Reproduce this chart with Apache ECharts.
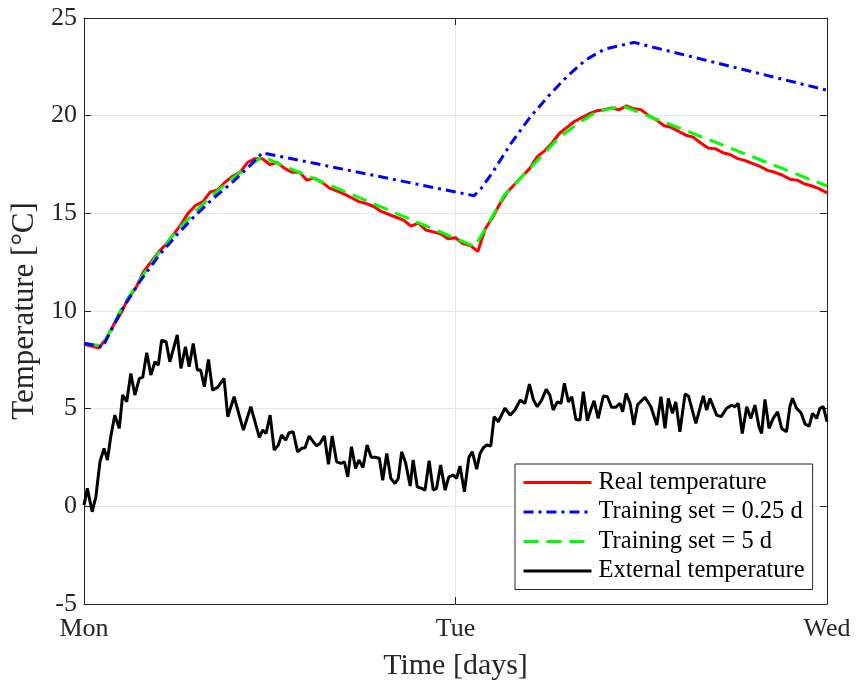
<!DOCTYPE html>
<html>
<head>
<meta charset="utf-8">
<script src="https://cdn.jsdelivr.net/npm/echarts@6/dist/echarts.min.js"></script>
<style>
  html, body { margin: 0; padding: 0; background: #fff; }
  #chart { width: 857px; height: 687px; }
</style>
</head>
<body>
<div id="chart"></div>
<script>
// x axis: time in days from Monday 00:00
var dayLabels = ["Mon", "Tue", "Wed"];

// Real temperature, sampled every 0.02 d
var realTemp = [
  8.3, 8.2, 8.1, 8.6, 9.3, 9.9, 10.7, 11.2, 12.0, 12.5,
  13.0, 13.4, 13.9, 14.4, 15.0, 15.4, 15.6, 16.1, 16.2, 16.6,
  16.9, 17.1, 17.6, 17.8, 17.8, 17.5, 17.6, 17.3, 17.1, 17.1,
  16.7, 16.8, 16.6, 16.3, 16.15, 16.0, 15.8, 15.6, 15.5, 15.35,
  15.1, 14.95, 14.8, 14.65, 14.35, 14.5, 14.15, 14.05, 13.95, 13.7,
  13.75, 13.45, 13.35, 13.05, 14.2, 14.8, 15.5, 16.1, 16.5, 16.9,
  17.3, 17.9, 18.2, 18.6, 19.1, 19.4, 19.7, 19.9, 20.1, 20.25,
  20.3, 20.4, 20.3, 20.5, 20.35, 20.3, 20.0, 19.8, 19.5, 19.4,
  19.2, 19.0, 18.9, 18.6, 18.35, 18.3, 18.1, 18.0, 17.8, 17.7,
  17.55, 17.4, 17.2, 17.1, 16.95, 16.75, 16.7, 16.5, 16.4, 16.25,
  16.05
];
var realTime = realTemp.map(function (v, i) { return +(i * 0.02).toFixed(2); });

// Training set = 0.25 d
var shortTime = [0, 0.05, 0.1, 0.15, 0.2, 0.25, 0.3, 0.35, 0.4, 0.45, 0.48,
  1.05, 1.07, 1.1, 1.15, 1.2, 1.25, 1.3, 1.35, 1.4, 1.48, 2.0];
var shortTemp = [8.35, 8.15, 10.0, 11.5, 12.8, 13.9, 14.9, 15.8, 16.6, 17.5, 18.1,
  15.9, 16.3, 17.1, 18.6, 19.9, 21.0, 22.0, 22.85, 23.4, 23.75, 21.3];

// Training set = 5 d
var longTime = [0, 0.05, 0.1, 0.15, 0.2, 0.25, 0.3, 0.35, 0.4, 0.45, 0.48,
  1.052, 1.08, 1.13, 1.18, 1.23, 1.28, 1.33, 1.38, 1.45, 2.0];
var longTemp = [8.35, 8.2, 10.1, 11.6, 12.95, 14.1, 15.1, 16.0, 16.8, 17.5, 17.9,
  13.3, 14.2, 15.9, 16.9, 17.9, 18.9, 19.6, 20.2, 20.5, 16.4];

// External temperature
var extTime = [
  0, 0.009, 0.022, 0.032, 0.043, 0.054, 0.063, 0.072, 0.083, 0.095,
  0.104, 0.115, 0.126, 0.137, 0.149, 0.158, 0.169, 0.18, 0.191, 0.2,
  0.209, 0.221, 0.231, 0.251, 0.261, 0.273, 0.283, 0.294, 0.305, 0.314,
  0.324, 0.335, 0.346, 0.36, 0.377, 0.387, 0.404, 0.429, 0.449, 0.472,
  0.481, 0.49, 0.501, 0.512, 0.523, 0.532, 0.543, 0.552, 0.563, 0.575,
  0.586, 0.595, 0.606, 0.617, 0.626, 0.635, 0.647, 0.658, 0.668, 0.68,
  0.692, 0.701, 0.71, 0.72, 0.731, 0.74, 0.751, 0.762, 0.773, 0.783,
  0.795, 0.804, 0.815, 0.826, 0.837, 0.846, 0.855, 0.866, 0.878, 0.886,
  0.897, 0.909, 0.918, 0.929, 0.94, 0.949, 0.96, 0.972, 0.982, 0.994,
  1.003, 1.012, 1.024, 1.036, 1.045, 1.057, 1.066, 1.075, 1.084, 1.095,
  1.104, 1.115, 1.133, 1.147, 1.16, 1.174, 1.187, 1.199, 1.21, 1.22,
  1.232, 1.244, 1.254, 1.263, 1.274, 1.284, 1.293, 1.304, 1.313, 1.324,
  1.335, 1.344, 1.355, 1.364, 1.373, 1.384, 1.398, 1.409, 1.42, 1.431,
  1.443, 1.45, 1.459, 1.47, 1.48, 1.49, 1.51, 1.526, 1.542, 1.553,
  1.564, 1.573, 1.584, 1.593, 1.604, 1.618, 1.627, 1.647, 1.667, 1.676,
  1.685, 1.703, 1.715, 1.73, 1.743, 1.752, 1.761, 1.772, 1.784, 1.795,
  1.806, 1.817, 1.824, 1.833, 1.844, 1.855, 1.867, 1.878, 1.891, 1.9,
  1.907, 1.918, 1.93, 1.941, 1.952, 1.961, 1.972, 1.981, 1.99, 2.0
];
var extTemp = [
  0.06, 0.92, -0.28, 0.49, 2.28, 2.97, 2.37, 3.56, 4.67, 3.99,
  5.7, 5.35, 6.8, 5.7, 6.55, 6.6, 7.86, 6.72, 7.4, 7.23,
  8.51, 8.43, 7.4, 8.77, 7.06, 8.17, 7.15, 8.34, 6.98, 6.98,
  6.12, 7.52, 5.95, 6.1, 6.55, 4.59, 5.61, 3.9, 5.1, 3.53,
  3.9, 3.73, 4.67, 2.88, 3.14, 3.65, 3.39, 3.77, 3.82, 2.79,
  2.97, 3.0, 3.6, 3.31, 3.1, 3.22, 3.6, 2.15, 3.6, 2.28,
  2.2, 2.28, 1.51, 3.05, 1.94, 2.37, 1.99, 3.14, 2.51, 2.51,
  2.46, 1.34, 2.71, 1.43, 1.17, 1.43, 2.79, 2.2, 1.04, 2.37,
  1.0, 0.92, 0.83, 2.33, 0.83, 0.92, 2.11, 0.83, 1.51, 1.6,
  1.43, 2.06, 0.75, 2.5, 2.8, 1.9, 2.7, 3.0, 3.14, 3.09,
  4.59, 4.33, 5.02, 4.67, 4.93, 5.44, 5.27, 6.26, 5.44, 5.1,
  5.44, 5.99, 5.7, 4.93, 5.35, 5.27, 6.3, 5.35, 5.61, 4.45,
  4.42, 5.87, 4.38, 4.93, 5.4, 4.5, 5.65, 5.61, 5.07, 5.07,
  5.27, 4.84, 5.78, 5.27, 4.16, 5.2, 5.58, 5.1, 4.16, 5.61,
  3.99, 5.53, 4.76, 5.35, 3.82, 5.75, 5.65, 4.25, 5.65, 4.93,
  5.53, 4.67, 4.59, 5.02, 5.18, 5.1, 5.27, 3.73, 5.1, 4.5,
  5.18, 4.07, 3.73, 5.47, 3.99, 4.5, 4.84, 3.99, 3.82, 5.1,
  5.53, 5.02, 4.79, 4.21, 4.11, 4.76, 4.5, 5.02, 5.1, 4.33
];

function zip(xs, ys) {
  return xs.map(function (x, i) { return [x, ys[i]]; });
}

var FONT = "Liberation Serif";
var INK = "#262626";

var chart = echarts.init(document.getElementById("chart"));

var option = {
  animation: false,
  backgroundColor: "#fff",
  textStyle: { fontFamily: FONT, color: INK },
  grid: { left: 84, right: 30, top: 18, bottom: 83, containLabel: false },
  legend: {
    orient: "vertical",
    left: 515,
    top: 464,
    padding: [6, 8, 6, 7],
    itemGap: 4.5,
    itemWidth: 68,
    itemHeight: 14,
    backgroundColor: "#fff",
    borderColor: INK,
    borderWidth: 1,
    borderRadius: 0,
    selectedMode: false,
    itemStyle: { opacity: 0 },
    lineStyle: { width: 3 },
    data: ["Real temperature", "Training set = 0.25 d", "Training set = 5 d", "External temperature"],
    textStyle: { fontFamily: FONT, fontSize: 24.5, lineHeight: 24, color: "#000", padding: [0, 0, 0, 2] }
  },
  xAxis: [
    {
      type: "value",
      min: 0,
      max: 2,
      interval: 1,
      name: "Time [days]",
      nameLocation: "middle",
      nameGap: 47,
      nameTextStyle: { fontFamily: FONT, fontSize: 30, color: INK },
      axisLine: { show: true, onZero: false, lineStyle: { color: INK, width: 1 } },
      axisTick: { show: true, inside: true, length: 7, lineStyle: { color: INK } },
      axisLabel: {
        fontFamily: FONT, fontSize: 26, color: INK, margin: 12,
        formatter: function (v) { return dayLabels[Math.round(v)]; }
      },
      splitLine: { show: true, lineStyle: { color: "#e6e6e6", width: 1 } }
    },
    {
      type: "value",
      position: "top",
      min: 0,
      max: 2,
      interval: 1,
      axisLine: { show: true, onZero: false, lineStyle: { color: INK, width: 1 } },
      axisTick: { show: true, inside: true, length: 7, lineStyle: { color: INK } },
      axisLabel: { show: false },
      splitLine: { show: false }
    }
  ],
  yAxis: [
    {
      type: "value",
      min: -5,
      max: 25,
      interval: 5,
      name: "Temperature [°C]",
      nameLocation: "middle",
      nameGap: 38,
      nameTextStyle: { fontFamily: FONT, fontSize: 31, color: INK },
      axisLine: { show: true, onZero: false, lineStyle: { color: INK, width: 1 } },
      axisTick: { show: true, inside: true, length: 7, lineStyle: { color: INK } },
      axisLabel: { fontFamily: FONT, fontSize: 26, color: INK, margin: 7 },
      splitLine: { show: true, lineStyle: { color: "#e6e6e6", width: 1 } }
    },
    {
      type: "value",
      position: "right",
      min: -5,
      max: 25,
      interval: 5,
      axisLine: { show: true, onZero: false, lineStyle: { color: INK, width: 1 } },
      axisTick: { show: true, inside: true, length: 7, lineStyle: { color: INK } },
      axisLabel: { show: false },
      splitLine: { show: false }
    }
  ],
  series: [
    {
      name: "External temperature",
      type: "line",
      symbol: "none",
      data: zip(extTime, extTemp),
      itemStyle: { color: "#000" },
      lineStyle: { color: "#000", width: 3 }
    },
    {
      name: "Real temperature",
      type: "line",
      symbol: "none",
      data: zip(realTime, realTemp),
      itemStyle: { color: "#ff0000" },
      lineStyle: { color: "#ff0000", width: 3 }
    },
    {
      name: "Training set = 5 d",
      type: "line",
      symbol: "none",
      data: zip(longTime, longTemp),
      itemStyle: { color: "#00ff00" },
      lineStyle: { color: "#00ff00", width: 3, type: [15, 8] }
    },
    {
      name: "Training set = 0.25 d",
      type: "line",
      symbol: "none",
      data: zip(shortTime, shortTemp),
      itemStyle: { color: "#0000ff" },
      lineStyle: { color: "#0000ff", width: 3, type: [10, 5, 3, 5] }
    }
  ]
};

chart.setOption(option);
</script>
</body>
</html>
